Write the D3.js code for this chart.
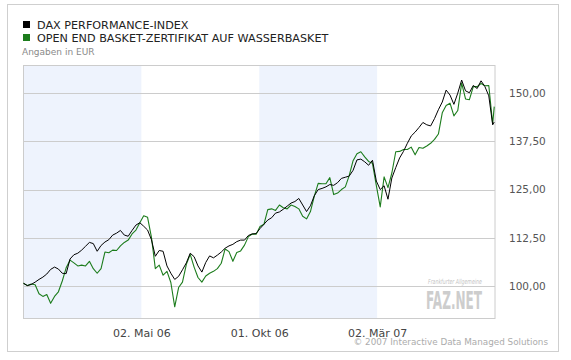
<!DOCTYPE html>
<html>
<head>
<meta charset="utf-8">
<script src="https://cdn.jsdelivr.net/npm/d3@7/dist/d3.min.js"></script>
<style>
  html, body { margin: 0; padding: 0; background: #fff; }
  svg { display: block; }
  text { font-family: "DejaVu Sans", Verdana, sans-serif; }
</style>
</head>
<body>
<svg id="chart" width="571" height="360"></svg>
<script>
// ---------- DATA ----------
const seriesNames = ["DAX PERFORMANCE-INDEX", "OPEN END BASKET-ZERTIFIKAT AUF WASSERBASKET"];
const seriesColors = ["#000000", "#1c7c1c"];
const unitNote = "Angaben in EUR";
const copyright = "\u00A9 2007 Interactive Data Managed Solutions";

// observation dates: every 5 calendar days from 1 Dec 2005, plus last quote 31 Jul 2007
const startDate = new Date(2005, 11, 1);
const stepDays = 5;
const nRegular = 122;
const dates = d3.range(nRegular).map(i => d3.timeDay.offset(startDate, i * stepDays)).concat([new Date(2007, 6, 31)]);

const daxValues = [
  100.7,100.1,100.4,101.0,101.7,102.3,103.1,104.3,104.9,104.4,
  103.3,103.2,107.0,108.1,108.5,109.3,110.3,111.3,111.0,109.0,
  110.5,111.4,112.0,113.2,113.7,114.4,113.2,112.9,114.4,115.8,
  116.4,115.5,114.5,112.0,107.7,109.2,109.0,105.2,103.3,101.7,
  102.5,104.2,106.0,108.5,107.6,105.2,103.6,106.1,107.8,107.3,
  108.0,108.8,109.8,110.4,110.8,111.5,111.9,111.9,113.1,113.5,
  113.6,114.9,116.0,117.1,117.7,118.9,119.2,119.9,120.7,121.5,
  121.9,122.7,121.0,119.3,120.8,123.4,125.0,125.3,125.7,126.3,
  126.1,126.8,127.9,128.2,128.5,130.0,132.7,132.9,132.2,131.3,
  132.6,127.2,125.0,126.0,122.5,128.0,130.7,133.2,134.9,137.0,
  138.9,139.9,141.1,142.4,141.8,141.5,143.4,145.7,147.7,150.8,
  149.5,147.1,150.0,153.4,150.6,150.1,152.0,151.2,153.2,151.7,
  149.3,141.8,142.5
];

const basketValues = [
  100.7,100.1,100.5,100.3,98.0,97.3,97.8,95.5,97.3,98.5,
  101.3,104.7,106.7,106.0,105.2,105.4,105.2,106.4,104.5,103.3,
  104.5,108.8,108.6,109.3,109.2,110.4,111.3,111.9,113.5,114.5,
  116.4,118.2,117.8,112.6,104.5,105.4,102.8,103.8,100.9,94.6,
  99.6,101.0,105.6,108.2,104.9,102.2,101.0,102.6,103.3,103.8,
  104.5,105.9,109.6,108.9,106.4,108.7,109.1,110.6,112.8,113.5,
  113.4,115.4,116.0,119.8,120.0,119.6,121.0,120.3,120.0,121.0,
  120.6,120.0,118.1,117.4,119.3,123.3,126.6,126.5,126.5,128.1,
  123.7,124.1,125.0,125.7,128.6,132.5,134.3,134.8,133.5,132.3,
  131.8,126.0,120.5,128.3,125.5,129.3,134.8,134.9,135.4,135.4,
  136.0,134.0,135.9,135.7,136.3,137.0,138.0,139.4,144.9,146.8,
  147.4,144.1,145.5,152.6,148.5,148.3,151.7,151.7,152.5,151.9,
  152.0,142.0,146.5
];

const yTickValues = [100, 112.5, 125, 137.5, 150];
const yTickLabels = ["100,00", "112,50", "125,00", "137,50", "150,00"];
const xTickDates = [new Date(2006, 4, 2), new Date(2006, 9, 1), new Date(2007, 2, 2)];
const xTickLabels = ["02. Mai 06", "01. Okt 06", "02. M\u00E4r 07"];
// alternating shaded periods
const bandStarts = [new Date(2005, 11, 1), new Date(2006, 9, 1)];
const bandEnds   = [new Date(2006, 4, 2),  new Date(2007, 2, 2)];

// ---------- LAYOUT ----------
const plot = { left: 23.5, right: 495, top: 65, bottom: 318 };
const svg = d3.select("#chart");

const x = d3.scaleTime()
  .domain([new Date(2005, 11, 1), new Date(2007, 7, 1)])
  .range([plot.left, plot.right]);
const y = d3.scaleLinear()
  .domain([91.7, 157.3])
  .range([plot.bottom, plot.top]);

// outer frame
svg.append("rect")
  .attr("x", 7.5).attr("y", 4.5).attr("width", 551).attr("height", 347)
  .attr("fill", "#fff").attr("stroke", "#cfcfcf").attr("stroke-width", 1);

// legend
seriesNames.forEach((name, i) => {
  const ly = 21 + i * 13;
  svg.append("rect").attr("x", 23).attr("y", ly).attr("width", 7).attr("height", 7)
    .attr("fill", seriesColors[i]);
  svg.append("text").attr("x", 37).attr("y", ly + 7.5)
    .attr("font-size", 11.2).attr("fill", "#222").text(name);
});
svg.append("text").attr("x", 22).attr("y", 55)
  .attr("font-size", 9).attr("fill", "#8a8a8a").text(unitNote);

// shaded bands
svg.append("g").selectAll("rect").data(bandStarts).join("rect")
  .attr("x", (d) => x(d))
  .attr("y", plot.top)
  .attr("width", (d, i) => x(bandEnds[i]) - x(d))
  .attr("height", plot.bottom - plot.top)
  .attr("fill", "#eef3fd");

// watermark (compressed horizontally to its footprint)
function fitText(sel, left, baseline, width) {
  const w = sel.node().getComputedTextLength();
  sel.attr("transform", `translate(${left},${baseline}) scale(${width / w},1)`);
}
const wm1 = svg.append("text").attr("x", 0).attr("y", 0)
  .attr("font-family", "DejaVu Serif, serif").attr("font-style", "italic")
  .attr("font-size", 7).attr("fill", "#c4c4c4")
  .text("Frankfurter Allgemeine");
fitText(wm1, 428, 284, 54);
const wm2 = svg.append("text").attr("x", 0).attr("y", 0)
  .attr("font-family", "Liberation Sans Narrow, Liberation Sans, Arial, sans-serif")
  .attr("font-weight", "bold").attr("font-size", 25).attr("fill", "#cdcdcd")
  .text("FAZ.NET");
fitText(wm2, 426, 308.5, 56);

// gridlines
svg.append("g").selectAll("line").data(yTickValues).join("line")
  .attr("x1", plot.left).attr("x2", plot.right)
  .attr("y1", d => Math.round(y(d)) + 0.5).attr("y2", d => Math.round(y(d)) + 0.5)
  .attr("stroke", "#cccccc").attr("stroke-width", 1);

// plot border
svg.append("rect")
  .attr("x", plot.left).attr("y", plot.top + 0.5)
  .attr("width", plot.right - plot.left).attr("height", plot.bottom - plot.top)
  .attr("fill", "none").attr("stroke", "#cccccc").attr("stroke-width", 1);

// lines
const mk = vals => d3.line().x((d, i) => x(dates[i])).y(d => y(d))(vals);
svg.append("path").attr("d", mk(basketValues))
  .attr("fill", "none").attr("stroke", seriesColors[1]).attr("stroke-width", 1.1)
  .attr("stroke-linejoin", "round");
svg.append("path").attr("d", mk(daxValues))
  .attr("fill", "none").attr("stroke", seriesColors[0]).attr("stroke-width", 1)
  .attr("stroke-linejoin", "round");

// y axis labels (right)
const yAxis = d3.axisRight(y).tickValues(yTickValues)
  .tickFormat((d, i) => yTickLabels[i]).tickSize(0).tickPadding(0);
const gy = svg.append("g").attr("transform", "translate(509,0)").call(yAxis);
gy.select(".domain").remove();
gy.selectAll("text").attr("font-size", 10.5).attr("fill", "#555")
  .attr("font-family", "DejaVu Sans, Verdana, sans-serif");

// x axis labels
const xAxis = d3.axisBottom(x).tickValues(xTickDates)
  .tickFormat((d, i) => xTickLabels[i]).tickSize(0).tickPadding(0);
const gx = svg.append("g").attr("transform", "translate(0,329)").call(xAxis);
gx.select(".domain").remove();
gx.selectAll("text").attr("font-size", 11).attr("fill", "#444")
  .attr("font-family", "DejaVu Sans, Verdana, sans-serif");

// copyright
svg.append("text").attr("x", 548).attr("y", 345)
  .attr("text-anchor", "end").attr("font-size", 8.8).attr("fill", "#acacac")
  .text(copyright);
</script>
</body>
</html>
